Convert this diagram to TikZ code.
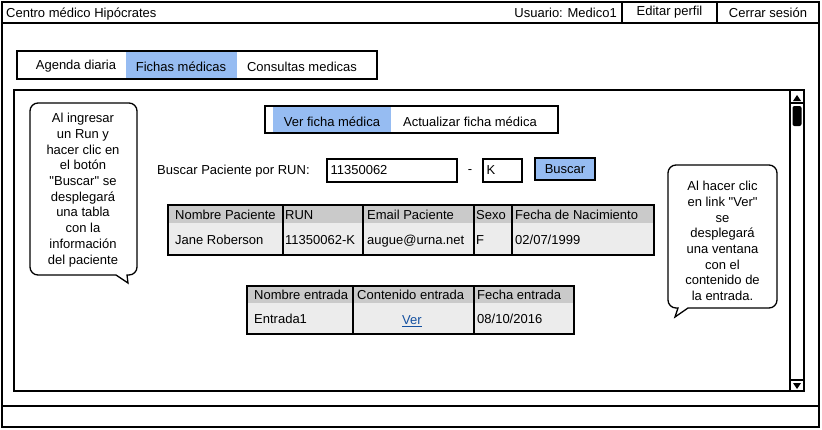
\documentclass[tikz,border=0pt]{standalone}
\usepackage{fontspec}
\setmainfont{Liberation Sans}[Ligatures=TeXOff]
\definecolor{selblue}{RGB}{150,188,242}
\definecolor{headgray}{RGB}{202,202,202}
\definecolor{rowgray}{RGB}{236,236,236}
\definecolor{linkblue}{RGB}{20,80,160}
\newcommand{\dq}{\char34}
\tikzset{
	frame/.style={draw=black,line width=1.6pt},
	thinbox/.style={draw=black,line width=1.2pt},
	txt/.style={inner sep=0pt,font=\fontsize{13}{15.7}\selectfont},
	tab/.style={txt,yshift=-1.5pt},
	lbl/.style={tab,anchor=mid west},
	btn/.style={txt,draw=black,line width=1.2pt},
	callout/.style={draw=black,line width=1.3pt,fill=white},
	note/.style={txt,align=center},
}
\begin{document}
\begin{tikzpicture}[x=1pt,y=-1pt]
	\useasboundingbox (0,0) rectangle (822,429);
	% window and title bar
	\draw[frame] (2,2) rectangle (819,427);
	\draw[frame] (2,23) -- (819,23);
	\draw[frame] (2,406) -- (819,406);
	\node[lbl] (title) at (6,13) {Centro médico Hipócrates};
	\node[lbl,anchor=mid east] (user) at (617,13) {Usuario: Medico1};
	\node[btn,minimum width=95pt,minimum height=21pt] (edit) at (669.5,12.5) {Editar perfil};
	\node[btn,minimum width=102pt,minimum height=21pt] (logout) at (768,12.5) {Cerrar sesión};
	% main tabs
	\fill[selblue] (126,52) rectangle (237,78);
	\draw[frame] (17,51) rectangle (377,79);
	\node[tab] (agenda) at (76,65) {Agenda diaria};
	\node[tab] (fichas) at (181,65) {Fichas médicas};
	\node[tab] (consultas) at (302,65) {Consultas medicas};
	% panel with scrollbar
	\draw[frame] (14,90) rectangle (804,391);
	\draw[thinbox] (790,90) -- (790,391);
	\draw[thinbox] (790,103) -- (804,103);
	\fill (793,101) -- (801,101) -- (797,95) -- cycle;
	\fill[rounded corners=2pt] (792.5,106) rectangle (801.5,126);
	\draw[thinbox] (790,380) -- (804,380);
	\fill (793,383) -- (801,383) -- (797,389) -- cycle;
	% sub tabs
	\fill[selblue] (273,107) rectangle (391,132);
	\draw[frame] (265,106) rectangle (558,133);
	\node[tab] (ver) at (332,120) {Ver ficha médica};
	\node[tab] (actualizar) at (470,120) {Actualizar ficha médica};
	% search row
	\node[lbl] (buscarlbl) at (157,170.5) {Buscar Paciente por RUN:};
	\node[btn,minimum width=130pt,minimum height=23pt] (runbox) at (392,170.5) {};
	\node[lbl] (runval) at ([xshift=4pt]runbox.west) {11350062};
	\node[tab] (dash) at (470,170.5) {-};
	\node[btn,minimum width=39pt,minimum height=23pt] (dvbox) at (502.5,170.5) {};
	\node[lbl] (dvval) at ([xshift=4pt]dvbox.west) {K};
	\node[btn,fill=selblue,line width=1.5pt,minimum width=60pt,minimum height=22pt] (buscar) at (565,169) {Buscar};
	% patient table
	\fill[headgray] (168,205) rectangle (654,223);
	\fill[rowgray] (168,223) rectangle (654,255);
	\foreach \x in {283,363,474,512}
	{
		\draw[frame] (\x,205) -- (\x,255);
	}
	\draw[frame] (168,205) rectangle (654,255);
	\foreach \x/\h/\v [count=\i] in {175/Nombre Paciente/Jane Roberson,285/RUN/11350062-K,367/Email Paciente/augue@urna.net,476/Sexo/F,515/Fecha de Nacimiento/{02/07/1999}}
	{
		\node[lbl] (ph\i) at (\x,215) {\h};
		\node[lbl] (pv\i) at (\x,240) {\v};
	}
	% entries table
	\fill[headgray] (247,286) rectangle (574,303);
	\fill[rowgray] (247,303) rectangle (574,334);
	\foreach \x in {353,474}
	{
		\draw[frame] (\x,286) -- (\x,334);
	}
	\draw[frame] (247,286) rectangle (574,334);
	\node[lbl] (eh1) at (254,295.5) {Nombre entrada};
	\node[lbl] (eh2) at (357,295.5) {Contenido entrada};
	\node[lbl] (eh3) at (477,295.5) {Fecha entrada};
	\node[lbl] (ev1) at (254,319.5) {Entrada1};
	\node[tab,text=linkblue] (ev2) at (412,319.5) {\underline{Ver}};
	\node[lbl] (ev3) at (477,319.5) {08/10/2016};
	% callouts
	\draw[callout] (116,275) [rounded corners=8pt] -- (30,275) -- (30,103) -- (137,103) -- (137,275) [sharp corners] -- (127,275) -- (128,283) -- cycle;
	\node[note] (noteleft) at (83,190) {Al ingresar\\un Run y\\hacer clic en\\el botón\\\dq Buscar\dq{} se\\desplegará\\una tabla\\con la\\información\\del paciente};
	\draw[callout] (688,308) [rounded corners=8pt] -- (777,308) -- (777,165) -- (668,165) -- (668,308) [sharp corners] -- (678,308) -- (675,317) -- cycle;
	\node[note] (noteright) at (722.5,241) {Al hacer clic\\en link \dq Ver\dq\\se\\desplegará\\una ventana\\con el\\contenido de\\la entrada.};
\end{tikzpicture}
\end{document}
